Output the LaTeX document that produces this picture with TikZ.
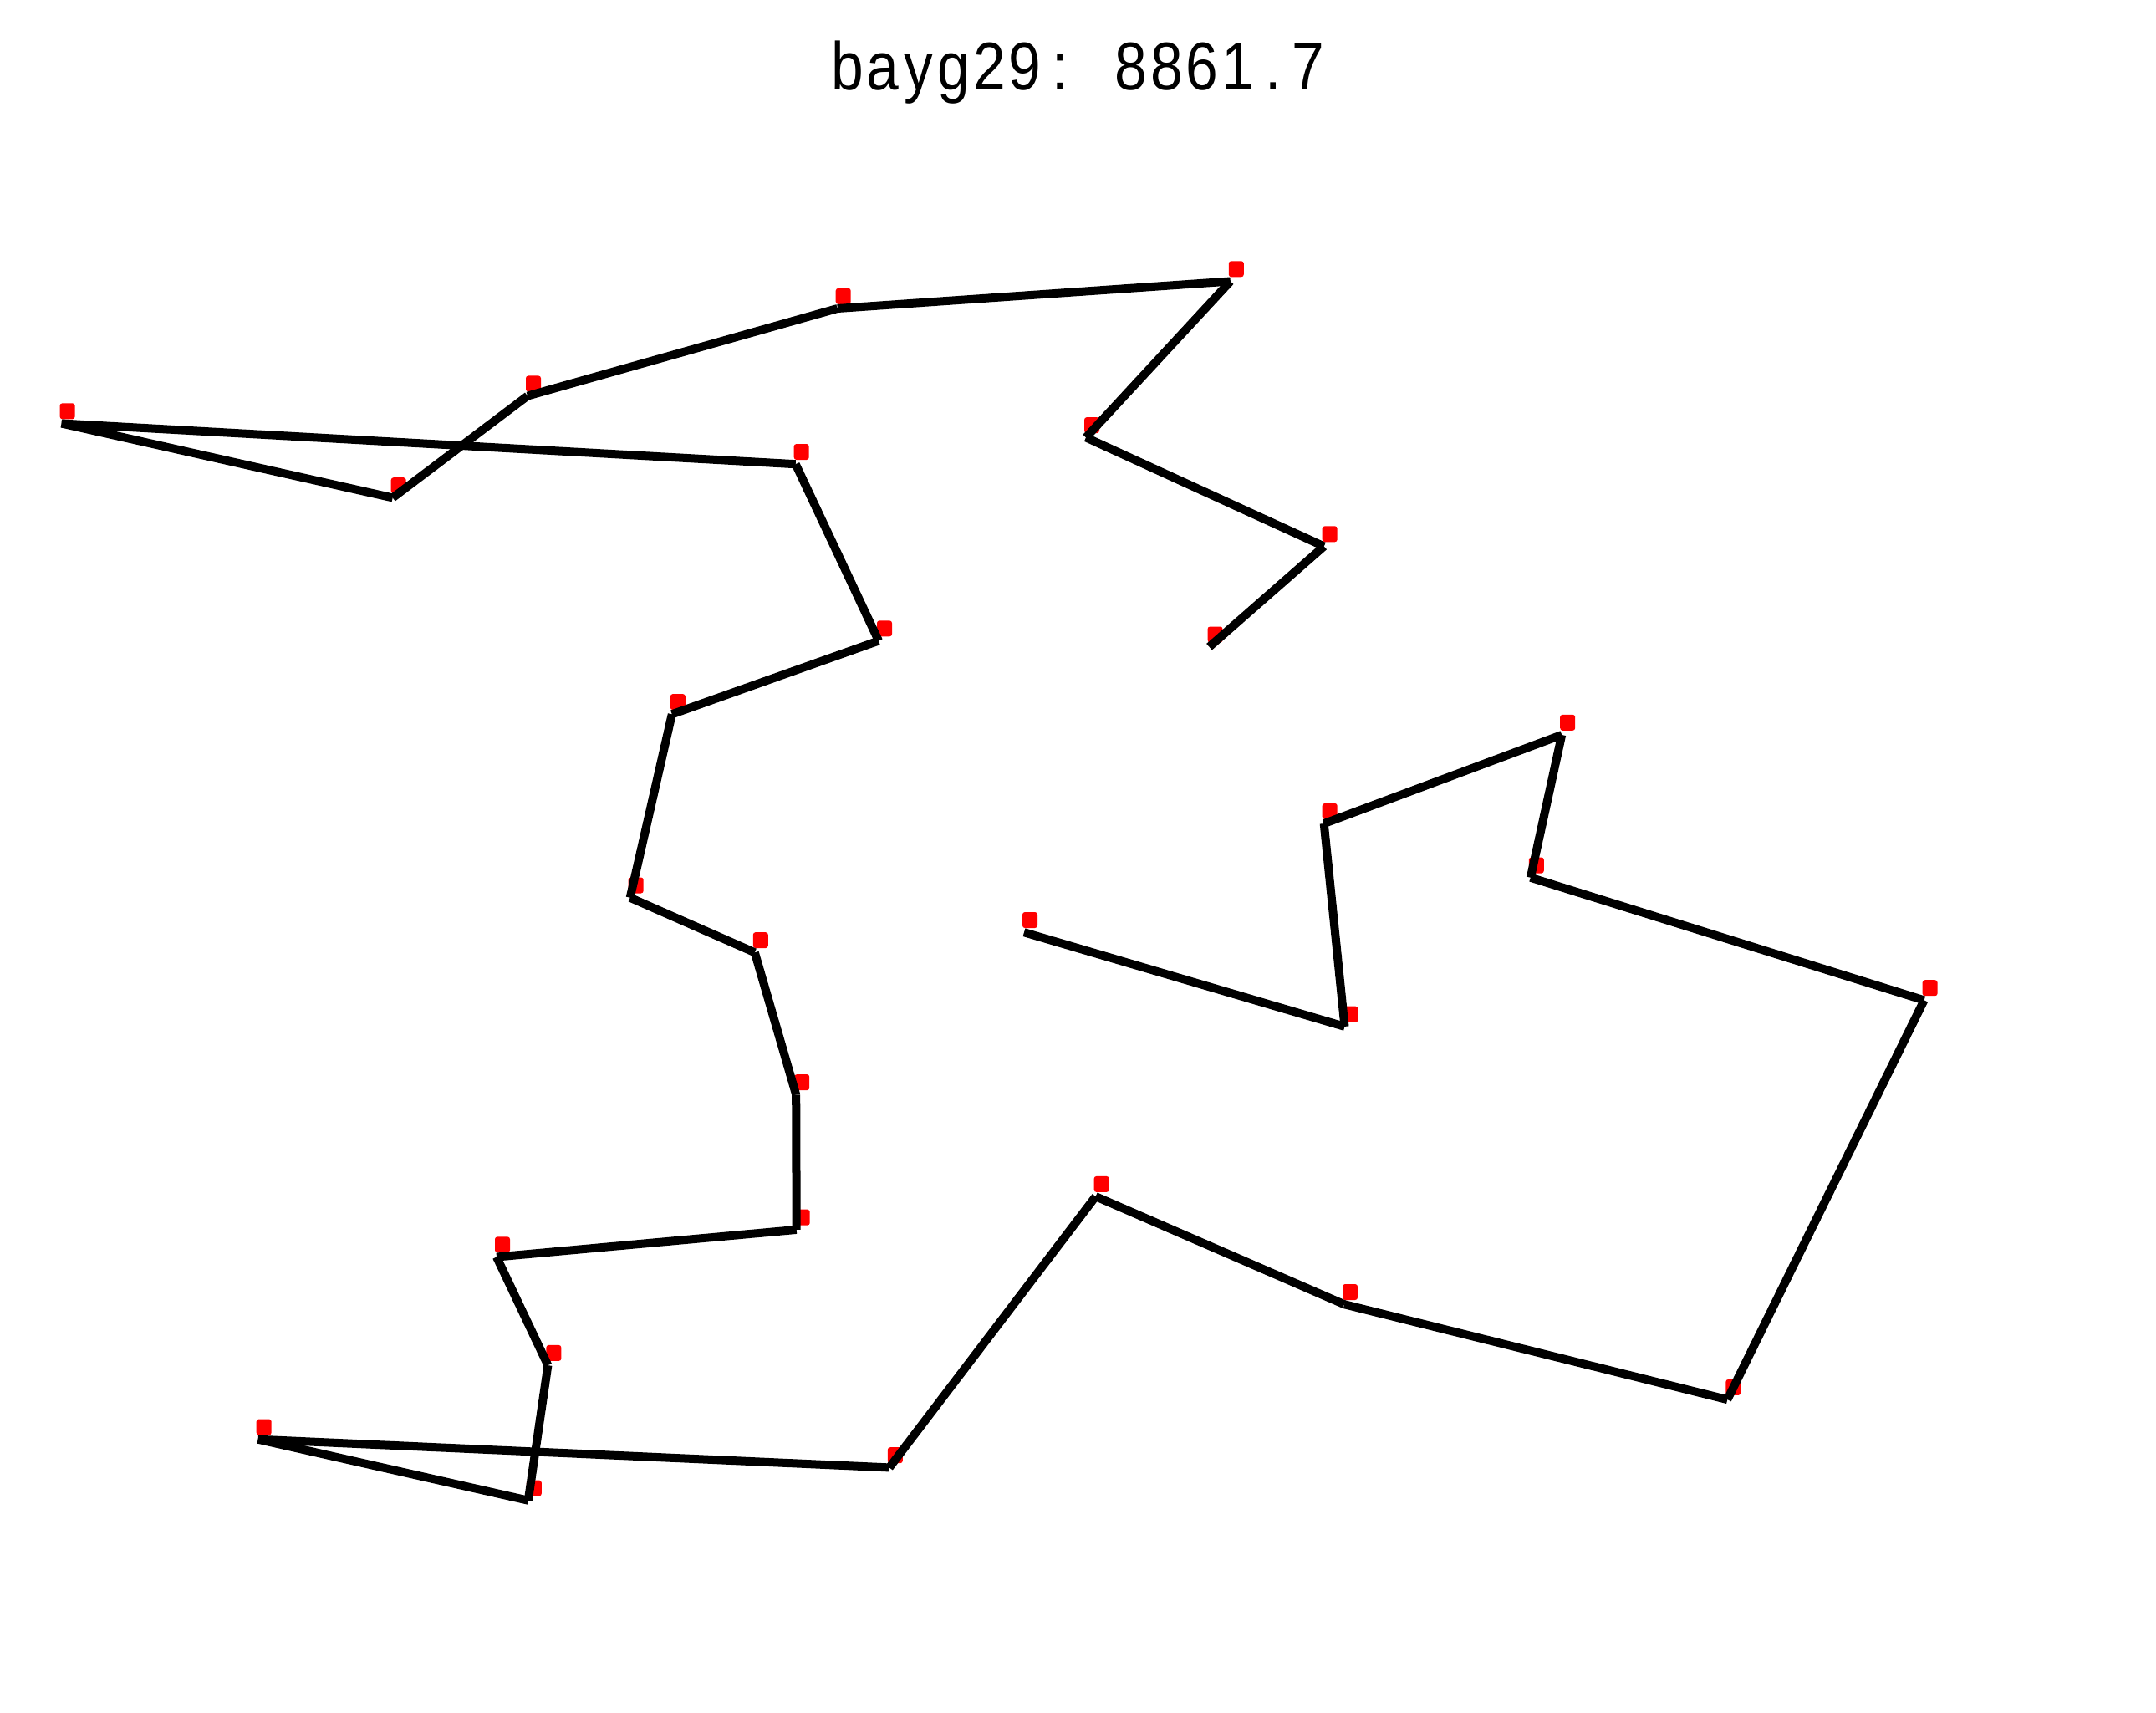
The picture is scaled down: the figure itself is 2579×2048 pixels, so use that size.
\documentclass[tikz,border=0pt]{standalone}
\usepackage{fontspec}
\newfontfamily\titlefamily{Liberation Sans}
\newcommand{\tcell}[1]{\makebox[0.424cm][c]{\scalebox{0.86}[1]{#1}}}
\begin{document}
\begin{tikzpicture}[x=0.01cm,y=-0.01cm,
  mk/.style={rectangle, fill=red, draw=none, inner sep=0pt, minimum width=0.18cm, minimum height=0.19cm, rounded corners=0.03cm},
  tour/.style={draw=black, line width=0.1cm, line cap=butt},
  titlestyle/.style={anchor=base, inner sep=0pt, font=\titlefamily\fontsize{23pt}{27pt}\selectfont}]
\fill[white] (0,0) rectangle (2579,2048);
\useasboundingbox (0,0) rectangle (2579,2048);

\node[titlestyle] (title) at (1289.5,107) {\tcell{b}\tcell{a}\tcell{y}\tcell{g}\tcell{2}\tcell{9}\tcell{:}\tcell{ }\tcell{8}\tcell{8}\tcell{6}\tcell{1}\tcell{.}\tcell{7}};

% markers
\node[mk] (m1) at (1453.5,759) {};
\node[mk] (m2) at (1590.7,638.8) {};
\node[mk] (m3) at (1306,508.6) {};
\node[mk] (m4) at (1478.8,321.8) {};
\node[mk] (m5) at (1008.7,354.3) {};
\node[mk] (m6) at (638,458.9) {};
\node[mk] (m7) at (476.7,580.7) {};
\node[mk] (m8) at (80.6,491.8) {};
\node[mk] (m9) at (958.7,540.5) {};
\node[mk] (m10) at (1058,751.8) {};
\node[mk] (m11) at (810.8,839.6) {};
\node[mk] (m12) at (760.7,1059) {};
\node[mk] (m13) at (909.8,1124.6) {};
\node[mk] (m14) at (959.2,1294.6) {};
\node[mk] (m15) at (959.7,1456.2) {};
\node[mk] (m16) at (601,1488.8) {};
\node[mk] (m17) at (662.4,1618.4) {};
\node[mk] (m18) at (638.8,1780) {};
\node[mk] (m19) at (315.7,1707) {};
\node[mk] (m20) at (1070.8,1740.7) {};
\node[mk] (m21) at (1317.6,1416.4) {};
\node[mk] (m22) at (1615,1545.5) {};
\node[mk] (m23) at (2073.3,1659.4) {};
\node[mk] (m24) at (2308.6,1181.7) {};
\node[mk] (m25) at (1837.8,1035) {};
\node[mk] (m26) at (1875.2,864.3) {};
\node[mk] (m27) at (1590.7,970.4) {};
\node[mk] (m28) at (1615.5,1213.2) {};
\node[mk] (m29) at (1232,1100.5) {};

% tour vertices
\coordinate (v1) at (1446.5,773.7);
\coordinate (v2) at (1583.7,653.5);
\coordinate (v3) at (1299,523.3);
\coordinate (v4) at (1471.8,336.5);
\coordinate (v5) at (1001.7,369);
\coordinate (v6) at (631,473.6);
\coordinate (v7) at (469.7,595.4);
\coordinate (v8) at (73.6,506.5);
\coordinate (v9) at (951.7,555.2);
\coordinate (v10) at (1051,766.5);
\coordinate (v11) at (803.8,854.3);
\coordinate (v12) at (753.7,1073.7);
\coordinate (v13) at (902.8,1139.3);
\coordinate (v14) at (952.2,1309.3);
\coordinate (v15) at (952.7,1470.9);
\coordinate (v16) at (594,1503.5);
\coordinate (v17) at (655.4,1633.1);
\coordinate (v18) at (631.8,1794.7);
\coordinate (v19) at (308.7,1721.7);
\coordinate (v20) at (1063.8,1755.4);
\coordinate (v21) at (1310.6,1431.1);
\coordinate (v22) at (1608,1560.2);
\coordinate (v23) at (2066.3,1674.1);
\coordinate (v24) at (2301.6,1196.4);
\coordinate (v25) at (1830.8,1049.7);
\coordinate (v26) at (1868.2,879);
\coordinate (v27) at (1583.7,985.1);
\coordinate (v28) at (1608.5,1227.9);
\coordinate (v29) at (1225,1115.2);

\foreach \a/\b in {1/2,2/3,3/4,4/5,5/6,6/7,7/8,8/9,9/10,10/11,11/12,12/13,13/14,14/15,15/16,16/17,17/18,18/19,19/20,20/21,21/22,22/23,23/24,24/25,25/26,26/27,27/28,28/29}
  \draw[tour] (v\a) -- (v\b);
\end{tikzpicture}
\end{document}
